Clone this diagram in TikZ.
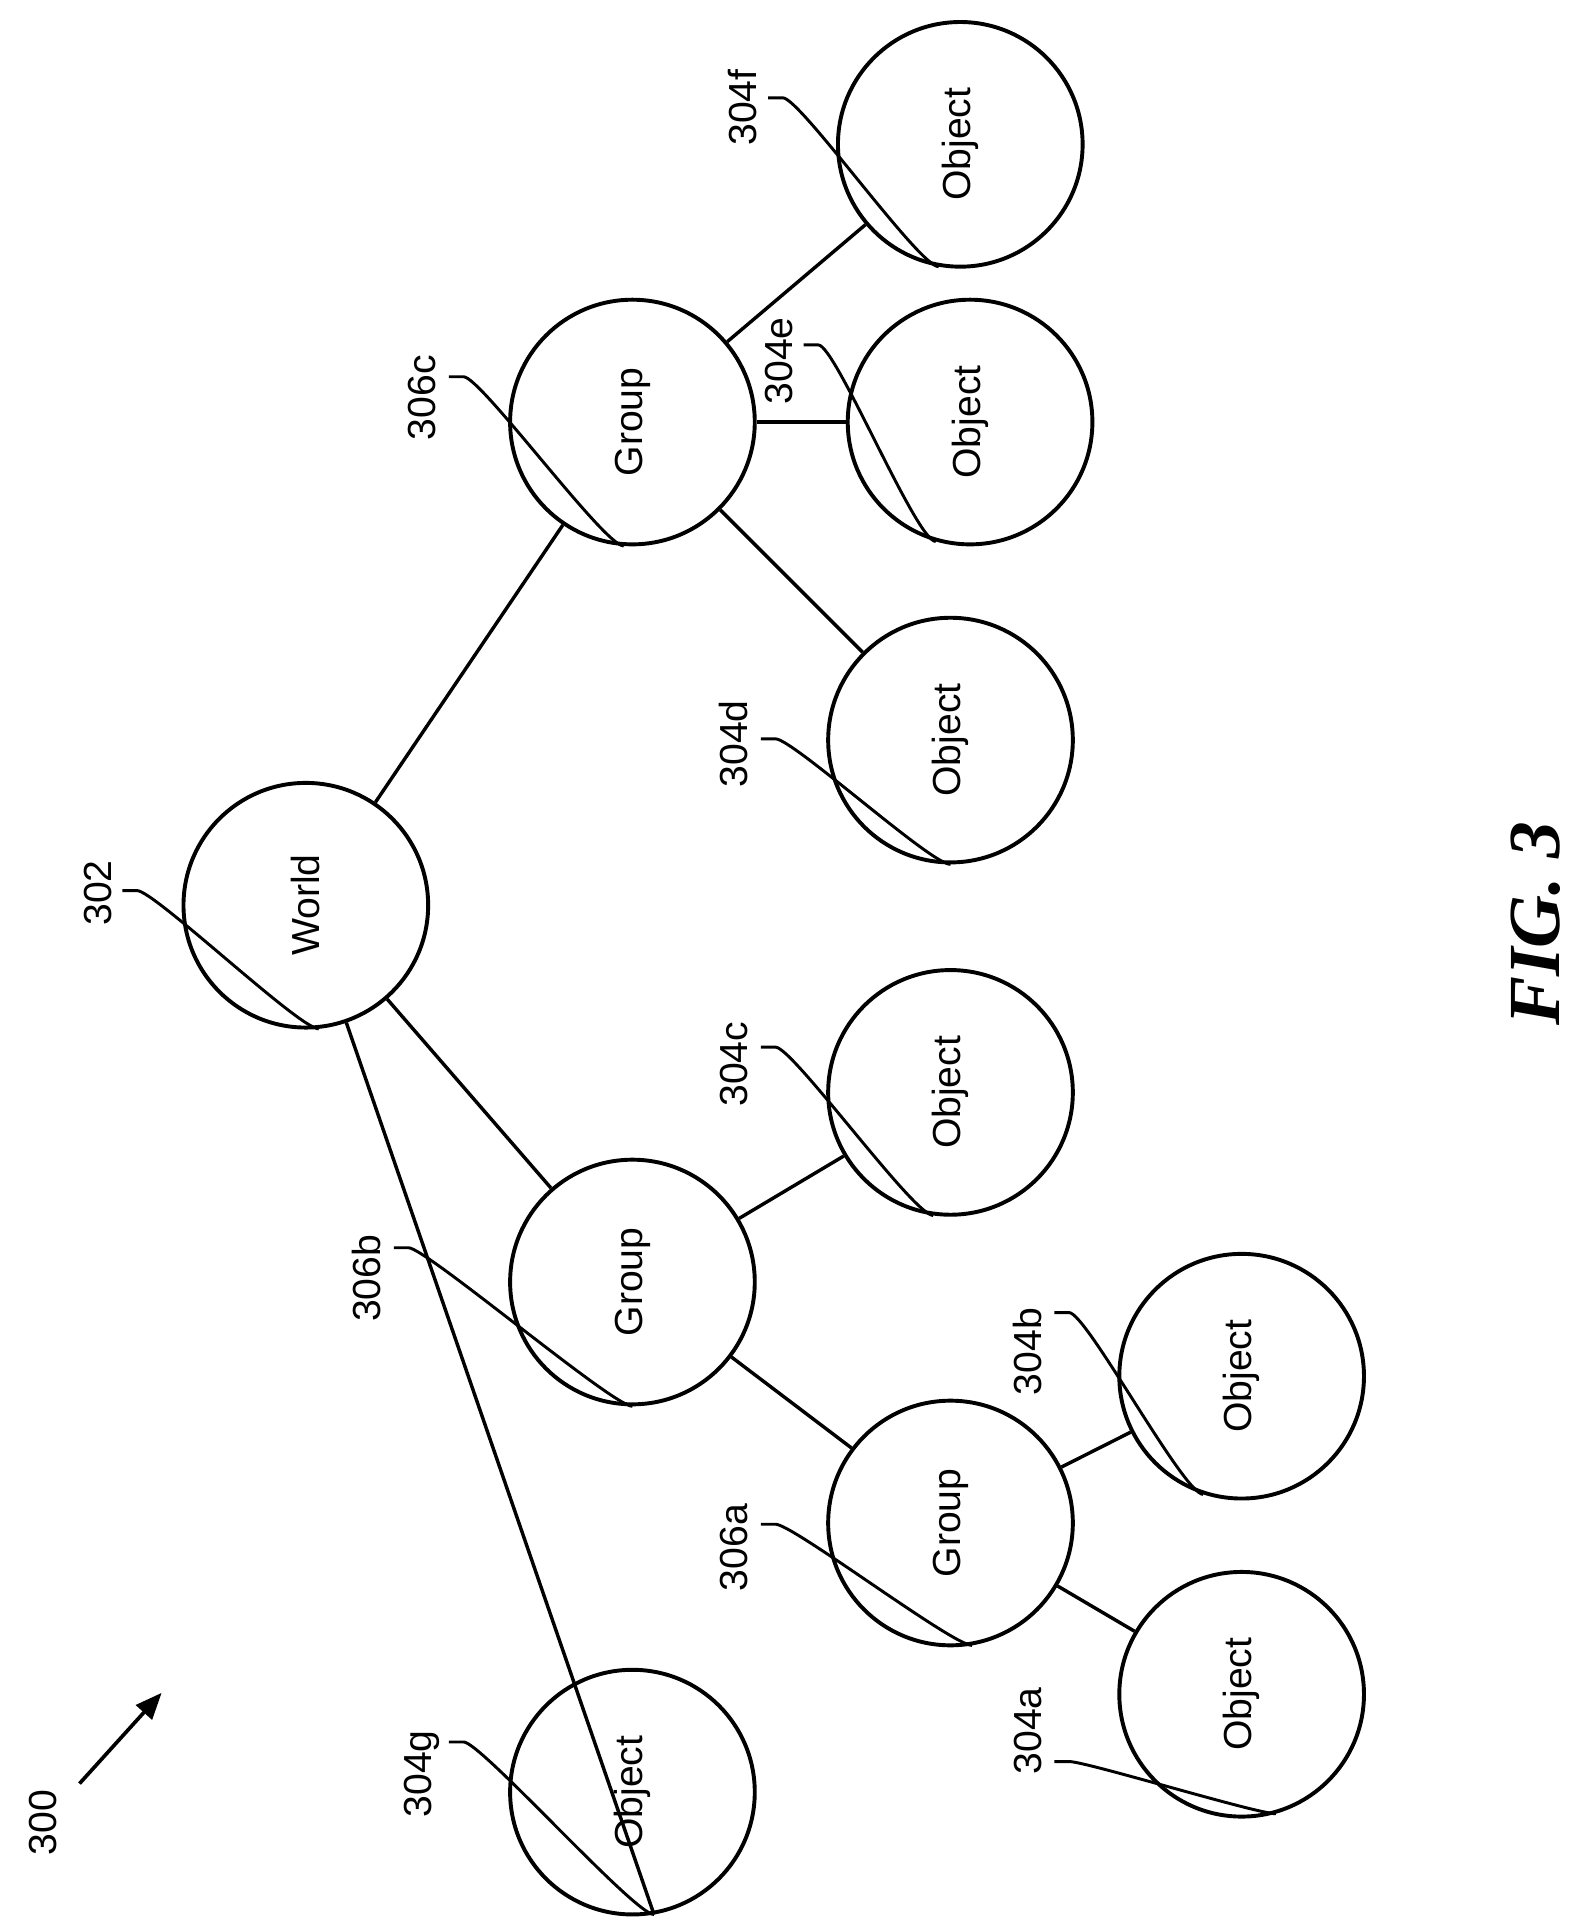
\documentclass[tikz,border=0pt]{standalone}
\usepackage{fontspec}
\setmainfont{Liberation Sans}
\newfontfamily\figfont{Liberation Serif}
\usetikzlibrary{arrows}
\tikzset{
	elem/.style={draw, line width=1.6pt, circle, minimum size=100pt, inner sep=0pt, font=\fontsize{16}{16}\selectfont, rotate=90},
	refnum/.style={font=\fontsize{16}{16}\selectfont, rotate=90},
	lead/.style={line width=1.2pt},
	link/.style={line width=1.4pt}
}
\newcommand{\leadline}[2]{\draw [lead] (#1) -- ++(12,0) .. controls +(14,0) and +(-16,0) .. (#2);}

\begin{document}
\begin{tikzpicture}[x=0.5pt, y=-0.5pt]
	\useasboundingbox (0,0) rectangle (1300,1572);
	\node [elem] (world) at (250,740) {World};
	\node [elem] (grpc) at (517,345) {Group};
	\node [elem] (objf) at (785,118) {Object};
	\node [elem] (obje) at (793,345) {Object};
	\node [elem] (objd) at (777,605) {Object};
	\node [elem] (grpb) at (517,1048) {Group};
	\node [elem] (objc) at (777,893) {Object};
	\node [elem] (grpa) at (777,1245) {Group};
	\node [elem] (objb) at (1015,1125) {Object};
	\node [elem] (obja) at (1015,1385) {Object};
	\node [elem] (objg) at (517,1465) {Object};
	%
	\draw [link] (world) to (grpc);
	\draw [link] (world) to (grpb);
	\draw [link] (world) to (objg.190);
	\draw [link] (grpc) to (objf);
	\draw [link] (grpc) to (obje);
	\draw [link] (grpc) to (objd);
	\draw [link] (grpb) to (objc);
	\draw [link] (grpb) to (grpa);
	\draw [link] (grpa) to (objb);
	\draw [link] (grpa) to (obja);
	%
	\node [refnum] (l302) at (80,730) {302};
	\node [refnum] (l306c) at (345,325) {306c};
	\node [refnum] (l304f) at (607,88) {304f};
	\node [refnum] (l304e) at (637,295) {304e};
	\node [refnum] (l304d) at (600,608) {304d};
	\node [refnum] (l306b) at (300,1045) {306b};
	\node [refnum] (l304c) at (600,870) {304c};
	\node [refnum] (l304b) at (840,1105) {304b};
	\node [refnum] (l306a) at (600,1265) {306a};
	\node [refnum] (l304a) at (840,1415) {304a};
	\node [refnum] (l304g) at (345,1450) {304g};
	\node [refnum] (l300) at (35,1490) {300};
	\node [font=\figfont\fontsize{30}{30}\selectfont\bfseries\itshape, rotate=90] (fig) at (1255,755) {FIG. 3};
	%
	\coordinate (s302) at (100,728);
	\coordinate (s306c) at (367,308);
	\coordinate (s304f) at (628,80);
	\coordinate (s304e) at (657,282);
	\coordinate (s304d) at (622,604);
	\coordinate (s306b) at (322,1020);
	\coordinate (s304c) at (622,856);
	\coordinate (s304b) at (862,1073);
	\coordinate (s306a) at (622,1246);
	\coordinate (s304a) at (862,1440);
	\coordinate (s304g) at (367,1424);
	\leadline{s302}{world.186}
	\leadline{s306c}{grpc.176}
	\leadline{s304f}{objf.170}
	\leadline{s304e}{obje.164}
	\leadline{s304d}{objd.180}
	\leadline{s306b}{grpb.180}
	\leadline{s304c}{objc.172}
	\leadline{s304b}{objb.162}
	\leadline{s306a}{grpa.190}
	\leadline{s304a}{obja.196}
	\leadline{s304g}{objg.190}
	%
	\coordinate (a300) at (65,1458);
	\coordinate (b300) at (132,1384);
	\draw [-triangle 45, line width=1.5pt] (a300) to (b300);
\end{tikzpicture}
\end{document}
